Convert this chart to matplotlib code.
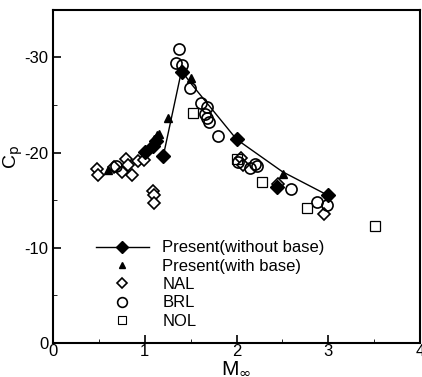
import matplotlib.pyplot as plt
from matplotlib.ticker import MultipleLocator

plt.rcParams['font.family'] = ['Liberation Sans', 'DejaVu Sans']
plt.rcParams['axes.unicode_minus'] = False

# Present (without base) - filled diamonds
pwo_x = [1.0, 1.09, 1.12, 1.2, 1.4, 2.0, 2.44, 3.0]
pwo_y = [-20.1, -20.7, -21.2, -19.6, -28.5, -21.4, -16.4, -15.5]
# fitted curve through present results
curve_x = [1.2, 1.4, 1.5, 2.0, 2.5, 3.0]
curve_y = [-19.6, -28.6, -27.3, -21.4, -18.0, -15.5]

# Present (with base) - filled triangles
pw_x = [0.6, 1.1, 1.13, 1.15, 1.25, 1.5, 2.51, 3.0]
pw_y = [-18.2, -21.4, -21.9, -22.0, -23.6, -27.8, -17.8, -15.7]

# NAL - open diamonds
nal_x = [0.48, 0.49, 0.66, 0.75, 0.79, 0.82, 0.86, 0.92, 0.99,
         1.09, 1.1, 1.1, 2.05, 2.07, 2.45, 2.95]
nal_y = [-18.3, -17.6, -18.5, -18.0, -19.3, -18.7, -17.7, -19.1, -19.2,
         -15.95, -15.5, -14.7, -19.4, -18.7, -16.7, -13.6]

# BRL - open circles
brl_x = [0.68, 1.34, 1.37, 1.4, 1.49, 1.61, 1.68, 1.66, 1.68, 1.7,
         1.8, 2.02, 2.15, 2.2, 2.22, 2.59, 2.88, 2.99]
brl_y = [-18.6, -29.4, -30.9, -29.2, -26.8, -25.2, -24.8, -24.1, -23.6, -23.2,
         -21.7, -19.0, -18.4, -18.8, -18.6, -16.2, -14.8, -14.5]

# NOL - open squares
nol_x = [1.52, 2.0, 2.28, 2.77, 3.51]
nol_y = [-24.2, -19.3, -16.9, -14.2, -12.3]

fig = plt.figure(figsize=(4.22, 3.77), dpi=100)
ax = fig.add_axes([0.126, 0.09, 0.869, 0.884])

ax.plot(curve_x, curve_y, '-', color='black', lw=1.0, zorder=2)
ax.plot(pwo_x, pwo_y, 'D', color='black', ms=7, zorder=4)
ax.plot(pw_x, pw_y, '^', color='black', ms=5.5, zorder=4)
ax.plot(nal_x, nal_y, 'D', mfc='white', mec='black', mew=1.2, ms=6.5, zorder=3)
ax.plot(brl_x, brl_y, 'o', mfc='none', mec='black', mew=1.2, ms=8, zorder=3)
ax.plot(nol_x, nol_y, 's', mfc='none', mec='black', mew=0.9, ms=6.5, zorder=3)

# legend
h1, = ax.plot([], [], '-D', color='black', lw=1.0, ms=6)
h2, = ax.plot([], [], '^', color='black', ms=4)
h3, = ax.plot([], [], 'D', mfc='white', mec='black', mew=1.2, ms=5)
h4, = ax.plot([], [], 'o', mfc='none', mec='black', mew=1.2, ms=7)
h5, = ax.plot([], [], 's', mfc='none', mec='black', mew=0.8, ms=6)
ax.legend([h1, h2, h3, h4, h5],
          ['Present(without base)', 'Present(with base)', 'NAL', 'BRL', 'NOL'],
          loc='upper left', bbox_to_anchor=(0.093, 0.333), frameon=False,
          fontsize=12, handlelength=3.2, handletextpad=0.8,
          labelspacing=0.2, borderpad=0)

ax.set_xlim(0, 4)
ax.set_ylim(0, -35)
ax.xaxis.set_major_locator(MultipleLocator(1))
ax.xaxis.set_minor_locator(MultipleLocator(0.5))
ax.yaxis.set_major_locator(MultipleLocator(10))
ax.yaxis.set_minor_locator(MultipleLocator(5))
ax.tick_params(which='both', direction='in', labelsize=12)
ax.tick_params(which='major', length=6, width=1.2)
ax.tick_params(which='minor', length=3)
ax.tick_params(axis='x', pad=1)
for s in ax.spines.values():
    s.set_linewidth(1.5)

ax.set_xlabel(r'M$_\infty$', fontsize=15, labelpad=-1)
ax.set_ylabel(r'C$_\mathrm{p}$', fontsize=14)
ax.yaxis.set_label_coords(-0.078, 0.56)

fig.savefig('out.png', dpi=100)
